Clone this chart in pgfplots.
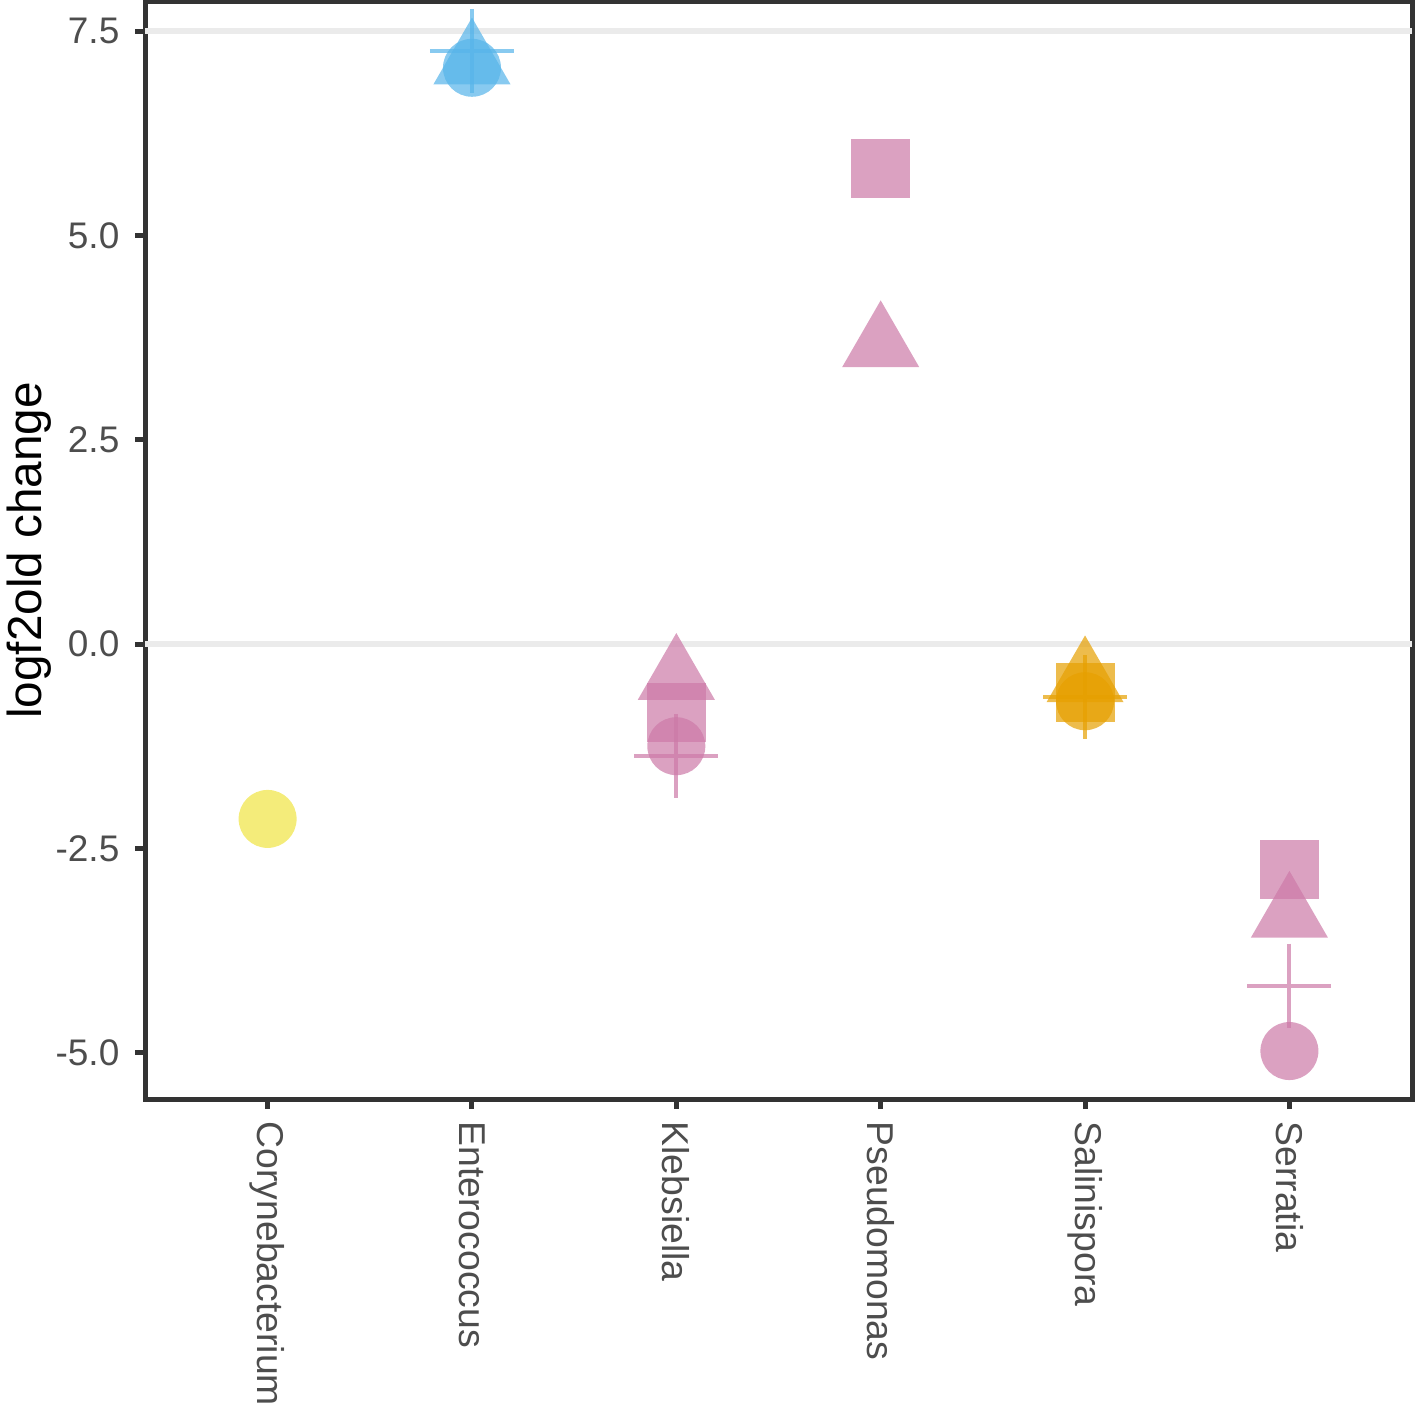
\documentclass[border=0pt]{standalone}
\usepackage{pgfplots}
\pgfplotsset{compat=1.18}
\usepackage{fontspec}
\setmainfont{Liberation Sans}
\definecolor{cyel}{HTML}{F0E442}
\definecolor{cblu}{HTML}{56B4E9}
\definecolor{cpink}{HTML}{CC79A7}
\definecolor{corg}{HTML}{E69F00}
\definecolor{axgray}{HTML}{333333}
\definecolor{tickgray}{HTML}{4D4D4D}
\definecolor{hgray}{HTML}{EBEBEB}
\pgfplotsset{
  circ/.style={only marks, color=#1, mark=*, mark size=8.7pt, mark options={fill=#1, fill opacity=0.7, draw opacity=0}},
  sq/.style={only marks, color=#1, mark=square*, mark size=8.85pt, mark options={fill=#1, fill opacity=0.7, draw opacity=0}},
  tri/.style={only marks, color=#1, mark=triangle*, mark size=13.35pt, mark options={fill=#1, fill opacity=0.7, draw opacity=0}},
  crs/.style={only marks, color=#1, mark=+, mark size=12.6pt, mark options={draw=#1, line width=1.2pt, draw opacity=0.7}},
}
\begin{document}
\begin{tikzpicture}
\begin{axis}[
  scale only axis, width=380.1pt, height=329.1pt,
  xmin=-0.6, xmax=5.6, ymin=-5.567, ymax=7.855,
  axis line style={axgray, line width=1.5pt},
  xtick={0,1,2,3,4,5},
  xticklabels={Corynebacterium,Enterococcus,Klebsiella,Pseudomonas,Salinispora,Serratia},
  ytick={-5,-2.5,0,2.5,5,7.5},
  yticklabels={-5.0,-2.5,0.0,2.5,5.0,7.5},
  tick align=outside, major tick length=3pt,
  tick style={axgray, line width=1.5pt},
  xtick pos=bottom, ytick pos=left,
  xticklabel shift=3.6pt, yticklabel shift=4.5pt,
  xticklabel style={rotate=-90, anchor=west, font=\fontsize{11.2}{13}\selectfont, text=tickgray, inner sep=0pt},
  yticklabel style={anchor=east, font=\fontsize{11.1}{13}\selectfont, text=tickgray, inner sep=0pt},
  clip=false,
]
\addplot[hgray, line width=1.8pt, forget plot] coordinates {(-0.6,7.5) (5.6,7.5)};
\addplot[hgray, line width=1.8pt, forget plot] coordinates {(-0.6,0) (5.6,0)};
% Corynebacterium
\addplot[circ=cyel] coordinates {(0,-2.14)};
% Enterococcus
\addplot[circ=cblu] coordinates {(1,7.05)};
\addplot[tri=cblu] coordinates {(1,7.12)};
\addplot[crs=cblu] coordinates {(1,7.25)};
% Klebsiella
\addplot[tri=cpink] coordinates {(2,-0.41)};
\addplot[sq=cpink] coordinates {(2,-0.84)};
\addplot[circ=cpink] coordinates {(2,-1.25)};
\addplot[crs=cpink] coordinates {(2,-1.37)};
% Pseudomonas
\addplot[sq=cpink] coordinates {(3,5.82)};
\addplot[tri=cpink] coordinates {(3,3.66)};
% Salinispora
\addplot[tri=corg] coordinates {(4,-0.44)};
\addplot[sq=corg] coordinates {(4,-0.59)};
\addplot[circ=corg] coordinates {(4,-0.70)};
\addplot[crs=corg] coordinates {(4,-0.65)};
% Serratia
\addplot[sq=cpink] coordinates {(5,-2.76)};
\addplot[tri=cpink] coordinates {(5,-3.32)};
\addplot[crs=cpink] coordinates {(5,-4.18)};
\addplot[circ=cpink] coordinates {(5,-4.98)};
\end{axis}
\node[rotate=90, anchor=south, inner sep=0pt, font=\fontsize{14.3}{16}\selectfont] at ([xshift=-28pt]current axis.west) {logf2old change};
\pgfresetboundingbox
\path[use as bounding box] ([xshift=-43.5pt,yshift=-92.7pt]current axis.south west) rectangle ([xshift=1.8pt,yshift=0.6pt]current axis.north east);
\end{tikzpicture}
\end{document}
